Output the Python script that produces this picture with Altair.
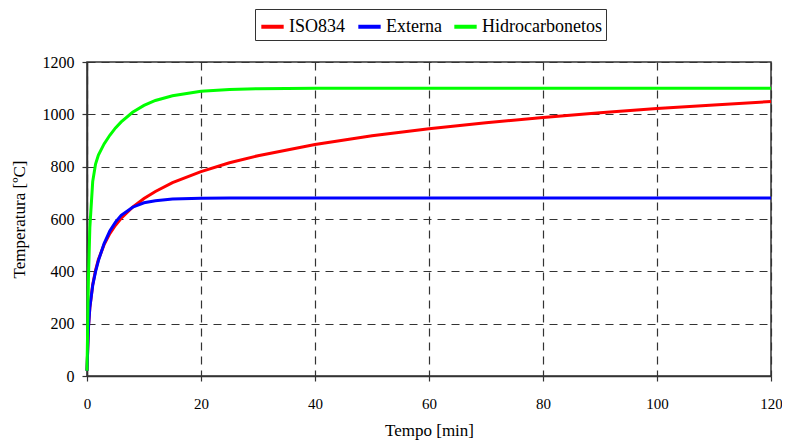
import altair as alt
import pandas as pd

t = [0, 0.25, 0.5, 1, 1.5, 2, 3, 4, 5, 6, 8, 10, 12, 15, 20, 25, 30, 40, 50, 60, 70, 80, 90, 100, 110, 120]
iso834 = [20, 185, 261, 349, 404, 445, 502, 544, 576, 603, 645, 678, 705, 739, 781, 815, 842, 885, 918, 945, 968, 988, 1006, 1022, 1036, 1049]
externa = [20, 182, 263, 346, 399, 441, 506, 554, 588, 614, 645, 662, 670, 676, 679, 680, 680, 680, 680, 680, 680, 680, 680, 680, 680, 680]
hidro = [20, 373, 568, 743, 810, 844, 887, 920, 948, 971, 1008, 1034, 1053, 1071, 1088, 1095, 1098, 1100, 1100, 1100, 1100, 1100, 1100, 1100, 1100, 1100]

series = ["ISO834", "Externa", "Hidrocarbonetos"]
colors = ["#ff0000", "#0000ff", "#00ff00"]

rows = []
for name, vals in zip(series, [iso834, externa, hidro]):
    for ti, v in zip(t, vals):
        rows.append({"t": ti, "T": v, "s": name})
df = pd.DataFrame(rows)

font = "Liberation Serif"

chart = alt.Chart(df).mark_line(strokeWidth=3).encode(
    x=alt.X("t:Q", title="Tempo [min]",
            scale=alt.Scale(domain=[0, 120], nice=False),
            axis=alt.Axis(values=[0, 20, 40, 60, 80, 100, 120], format="d",
                          labelFont=font, titleFont=font, labelFlush=False,
                          labelFontSize=15, labelPadding=15, titlePadding=11)),
    y=alt.Y("T:Q", title="Temperatura [ºC]",
            scale=alt.Scale(domain=[0, 1200], nice=False),
            axis=alt.Axis(values=[0, 200, 400, 600, 800, 1000, 1200], format="d",
                          labelFont=font, titleFont=font, labelFlush=False,
                          labelPadding=8, titlePadding=14)),
    color=alt.Color("s:N", sort=series,
                    scale=alt.Scale(domain=series, range=colors),
                    legend=alt.Legend(title=None, orient="none", direction="horizontal",
                                      legendX=168, legendY=-53,
                                      symbolType="stroke", symbolStrokeWidth=4,
                                      symbolSize=500, symbolOffset=0,
                                      strokeColor="#333333", padding=4,
                                      labelFont=font, labelFontSize=18, labelColor="#000000",
                                      columnPadding=4, labelOffset=3)),
    order=alt.Order("t:Q"),
).properties(
    width=684, height=314,
    autosize=alt.AutoSizeParams(type="none"),
    padding={"left": 79, "top": 54, "right": 11, "bottom": 64},
).configure(
    font=font
).configure_view(
    stroke="#333333", strokeWidth=1.5
).configure_axis(
    labelFont=font, labelFontSize=16, labelColor="#000000",
    titleFont=font, titleFontSize=17, titleColor="#000000", titleFontWeight="normal",
    domainColor="#333333", domainWidth=1.5,
    tickColor="#333333", tickSize=5, tickWidth=1.2,
    gridColor="#333333", gridDash=[8, 6], gridWidth=1.2, gridOpacity=1,
)

chart.save("out.html", embed_options={"renderer": "svg", "actions": False})
